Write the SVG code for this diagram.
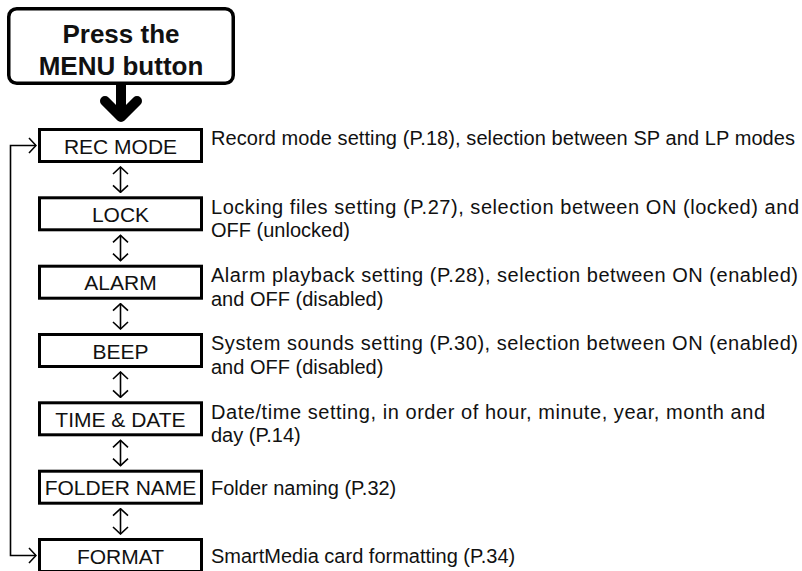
<svg xmlns="http://www.w3.org/2000/svg" width="802" height="571" viewBox="0 0 802 571">
<style>
.box{fill:#fff;stroke:#000;stroke-width:3}
.lbl{font-family:"Liberation Sans",Arial,sans-serif;font-size:21px;fill:#111;text-anchor:middle}
.desc{font-family:"Liberation Sans",Arial,sans-serif;font-size:20px;fill:#111}
.head{font-family:"Liberation Sans",Arial,sans-serif;font-size:26px;font-weight:bold;fill:#111;text-anchor:middle}
.con{fill:none;stroke:#000;stroke-width:1.6}
</style>
<defs>
<marker id="chev" viewBox="-1 -1 9 17" refX="7" refY="7.5" markerWidth="9" markerHeight="17" markerUnits="userSpaceOnUse" orient="auto-start-reverse">
<path d="M0,0 L7,7.5 L0,15" fill="none" stroke="#000" stroke-width="1.6"/>
</marker>
</defs>
<rect width="802" height="571" fill="#fff"/>
<g id="start">
<rect x="8.75" y="8.75" width="224.5" height="74.5" rx="8" fill="#fff" stroke="#000" stroke-width="3.5"/>
<text class="head" x="121" y="43">Press the</text>
<text class="head" x="121" y="75">MENU button</text>
</g>
<g id="connectors">
<path d="M121,85 V113" fill="none" stroke="#000" stroke-width="10"/>
<path d="M105,101 L121,117 L137,101" fill="none" stroke="#000" stroke-width="10" stroke-linecap="round" stroke-linejoin="round"/>
<path class="con" d="M120.5,167 V192.3" marker-start="url(#chev)" marker-end="url(#chev)"/>
<path class="con" d="M120.5,235.3 V260.7" marker-start="url(#chev)" marker-end="url(#chev)"/>
<path class="con" d="M120.5,303.7 V329" marker-start="url(#chev)" marker-end="url(#chev)"/>
<path class="con" d="M120.5,372 V397.3" marker-start="url(#chev)" marker-end="url(#chev)"/>
<path class="con" d="M120.5,440.3 V465.7" marker-start="url(#chev)" marker-end="url(#chev)"/>
<path class="con" d="M120.5,508.7 V534" marker-start="url(#chev)" marker-end="url(#chev)"/>
<path class="con" d="M36,145.5 H10.5 V555.5 H36" marker-start="url(#chev)" marker-end="url(#chev)"/>
</g>
<g id="rec-mode">
<rect class="box" x="39.5" y="129.5" width="162" height="32"/>
<text class="lbl" x="120.5" y="153.5">REC MODE</text>
<text class="desc" x="211" y="145" textLength="584">Record mode setting (P.18), selection between SP and LP modes</text>
</g>
<g id="lock">
<rect class="box" x="39.5" y="197.8" width="162" height="32"/>
<text class="lbl" x="120.5" y="221.8">LOCK</text>
<text class="desc" x="211" y="213.5" textLength="588">Locking files setting (P.27), selection between ON (locked) and</text>
<text class="desc" x="211" y="237">OFF (unlocked)</text>
</g>
<g id="alarm">
<rect class="box" x="39.5" y="266.2" width="162" height="32"/>
<text class="lbl" x="120.5" y="290.2">ALARM</text>
<text class="desc" x="211" y="282" textLength="587">Alarm playback setting (P.28), selection between ON (enabled)</text>
<text class="desc" x="211" y="305.5">and OFF (disabled)</text>
</g>
<g id="beep">
<rect class="box" x="39.5" y="334.5" width="162" height="32"/>
<text class="lbl" x="120.5" y="358.5">BEEP</text>
<text class="desc" x="211" y="350" textLength="587">System sounds setting (P.30), selection between ON (enabled)</text>
<text class="desc" x="211" y="374">and OFF (disabled)</text>
</g>
<g id="time-date">
<rect class="box" x="39.5" y="402.8" width="162" height="32"/>
<text class="lbl" x="120.5" y="426.8">TIME &amp; DATE</text>
<text class="desc" x="211" y="418.5" textLength="554">Date/time setting, in order of hour, minute, year, month and</text>
<text class="desc" x="211" y="442">day (P.14)</text>
</g>
<g id="folder-name">
<rect class="box" x="39.5" y="471.2" width="162" height="32"/>
<text class="lbl" x="120.5" y="495.2">FOLDER NAME</text>
<text class="desc" x="211" y="495">Folder naming (P.32)</text>
</g>
<g id="format">
<rect class="box" x="39.5" y="539.5" width="162" height="32"/>
<text class="lbl" x="120.5" y="563.5">FORMAT</text>
<text class="desc" x="211" y="563">SmartMedia card formatting (P.34)</text>
</g>
</svg>
